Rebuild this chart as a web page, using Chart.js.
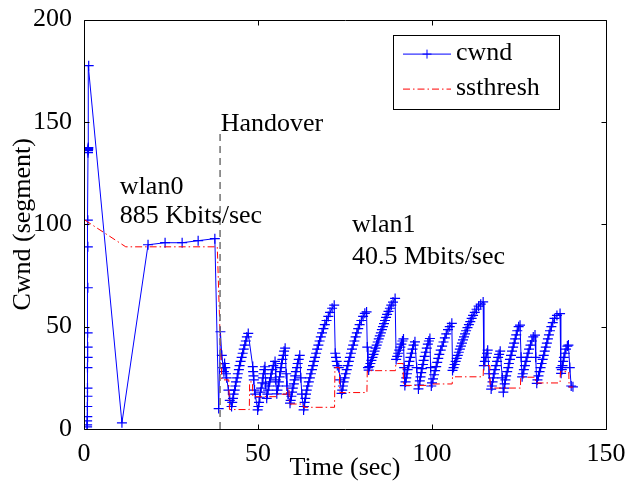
<!DOCTYPE html>
<html>
<head>
<meta charset="utf-8">
<script src="https://cdn.jsdelivr.net/npm/chart.js@4/dist/chart.umd.min.js"></script>
<style>
  html, body { margin: 0; padding: 0; background: #ffffff; }
  #wrap { width: 628px; height: 487px; }
</style>
</head>
<body>
<div id="wrap"><canvas id="c" width="628" height="487"></canvas></div>
<script>
// Axis ticks
const xTicks = [0, 50, 100, 150];
const yTicks = [0, 50, 100, 150, 200];

// cwnd samples [time (sec), cwnd (segments)] — slow start on wlan0
const cwndSlowStart = [
  [0.9, 1], [0.9, 2], [0.9, 4], [0.95, 6], [0.95, 11], [1.0, 16], [1.0, 20],
  [1.0, 30], [1.05, 35], [1.05, 40], [1.05, 47], [1.1, 69], [1.1, 89], [1.1, 102],
  [1.15, 135], [1.15, 136], [1.2, 136.5], [1.2, 137], [1.25, 137.5], [1.35, 177.5]
];

// cwnd on wlan0 until the handover
const cwndWlan0 = [
  [10.9, 3], [18.4, 90], [23.3, 91], [28.2, 91], [32.8, 92], [37.6, 93]
];

// cwnd on wlan1 after the handover
const cwndWlan1 = [
  [38.7, 10], [39.2, 47.5], [39.6, 36], [40.0, 30], [40.2, 28], [40.4, 32], [40.6, 30],
  [40.8, 27], [41.0, 25], [41.5, 19], [41.9, 14], [42.4, 11],
  [42.6, 13], [42.8, 15], [43.0, 17], [43.3, 19], [43.5, 21], [43.7, 23], [44.0, 25],
  [44.2, 27], [44.5, 29], [44.7, 31], [45.0, 33], [45.3, 35], [45.6, 37], [45.9, 39],
  [46.2, 41], [46.5, 43], [46.8, 45], [47.2, 46.7],
  [48.5, 30.5], [48.6, 28], [48.7, 26], [48.8, 24], [49.0, 19], [49.2, 17], [49.9, 9.3],
  [50.1, 11], [50.3, 13], [50.5, 15.5], [50.7, 18], [50.9, 20], [51.2, 22.5], [51.4, 25],
  [51.6, 27], [51.8, 29], [52.0, 30.4],
  [52.2, 22], [52.5, 15],
  [52.7, 17], [52.9, 19], [53.1, 21], [53.3, 23], [53.6, 25], [53.8, 27], [54.1, 29],
  [54.4, 31], [54.9, 33],
  [55.1, 24], [55.4, 17.2],
  [55.6, 19], [55.8, 21], [56.0, 23], [56.2, 25.5], [56.4, 28], [56.6, 30], [56.8, 32],
  [57.0, 34], [57.3, 36], [57.5, 38], [57.8, 39.5],
  [58.1, 27], [58.3, 21], [58.6, 17], [59.2, 12.6],
  [59.4, 14], [59.6, 16], [59.8, 18], [60.0, 20], [60.3, 22], [60.5, 24], [60.7, 26],
  [60.9, 28], [61.2, 30], [61.4, 32], [61.7, 34], [62.0, 36],
  [62.3, 25], [62.6, 17], [63.1, 9.3],
  [63.2, 11], [63.4, 13], [63.6, 15], [63.8, 17], [64.0, 19], [64.3, 21], [64.6, 23],
  [64.9, 25], [65.2, 27], [65.5, 29], [65.8, 31], [66.1, 33], [66.4, 35], [66.7, 37],
  [67.0, 39], [67.35, 41], [67.7, 43], [68.05, 45], [68.4, 47], [68.8, 49], [69.2, 51],
  [69.7, 53], [70.2, 55], [70.7, 57], [71.3, 59], [71.9, 60.5],
  [72.2, 37], [72.4, 35], [72.6, 33], [72.8, 31], [73.2, 30], [73.6, 24], [74.0, 17.4],
  [74.2, 19], [74.4, 21], [74.6, 23], [74.9, 25], [75.2, 27], [75.5, 29], [75.8, 31],
  [76.1, 33], [76.4, 35], [76.7, 37], [77.0, 39], [77.35, 41], [77.7, 43], [78.05, 45],
  [78.4, 47], [78.8, 49], [79.2, 51], [79.7, 53], [80.2, 55], [80.7, 56.5], [81.2, 57.2],
  [81.4, 40], [81.6, 30], [81.8, 28.8],
  [82.0, 30.5], [82.3, 32], [82.6, 33.5], [82.9, 35], [83.2, 36.5], [83.5, 38], [83.8, 39.5],
  [84.1, 41], [84.4, 42.5], [84.7, 44], [85.0, 45.5], [85.3, 47], [85.6, 48.5], [85.9, 50],
  [86.2, 51.5], [86.5, 53], [86.8, 54.5], [87.1, 56], [87.5, 57.5], [87.9, 59], [88.3, 60.5],
  [88.8, 62], [89.4, 63.8],
  [89.7, 34], [90.0, 35.5], [90.3, 37], [90.6, 38.5], [90.9, 40], [91.2, 41.5], [91.5, 43],
  [91.8, 44], [92.0, 30], [92.2, 21.2],
  [92.4, 23], [92.6, 25], [92.8, 27], [93.0, 29], [93.3, 31], [93.5, 33], [93.8, 35],
  [94.1, 37], [94.4, 39], [94.7, 41], [95.1, 42.6],
  [95.6, 30], [96.1, 19.6],
  [96.3, 21.5], [96.5, 23.5], [96.7, 25.5], [96.9, 27.5], [97.1, 29.5], [97.4, 31.5],
  [97.6, 33.5], [97.9, 35.5], [98.2, 37.5], [98.5, 39.5], [98.8, 41.5], [99.1, 43], [99.4, 44.2],
  [99.6, 30], [99.8, 21],
  [100.0, 22.5], [100.3, 24.5], [100.6, 26.5], [100.9, 28.5], [101.2, 30.5], [101.5, 32.5],
  [101.8, 34.5], [102.1, 36.5], [102.5, 38.5], [102.9, 40.5], [103.3, 42.5], [103.7, 44.5],
  [104.1, 46.5], [104.6, 48.5], [105.1, 50], [105.7, 51.6],
  [105.9, 28.6],
  [106.2, 30], [106.5, 31.5], [106.8, 33], [107.1, 34.5], [107.4, 36], [107.7, 37.5],
  [108.0, 39], [108.3, 40.5], [108.6, 42], [108.9, 43.5], [109.2, 45], [109.5, 46.5],
  [109.8, 48], [110.2, 49.5], [110.6, 51], [111.0, 52.5], [111.4, 54], [111.8, 55.5],
  [112.3, 57], [112.8, 58.5], [113.4, 60], [114.0, 61], [114.7, 62.1],
  [114.9, 31], [115.2, 33], [115.5, 35], [115.8, 37], [116.0, 38.5], [116.4, 27], [117.0, 19.5],
  [117.2, 21], [117.4, 23], [117.6, 25], [117.8, 27], [118.1, 29], [118.4, 31], [118.7, 33],
  [119.0, 35], [119.3, 36.5], [119.6, 38],
  [120.2, 25], [120.5, 18],
  [120.7, 20], [120.9, 22], [121.1, 24], [121.3, 26], [121.6, 28], [121.9, 30], [122.1, 32],
  [122.4, 34], [122.7, 36], [123.0, 38], [123.3, 40], [123.6, 42], [123.9, 44], [124.2, 46],
  [124.5, 48], [124.9, 50], [125.3, 50.7],
  [125.6, 35], [125.9, 25.5],
  [126.1, 27], [126.4, 29], [126.7, 31], [127.0, 33], [127.3, 35], [127.6, 37], [127.9, 39],
  [128.3, 41], [128.7, 43], [129.1, 45], [129.6, 45.9],
  [129.8, 35], [130.1, 22.3],
  [130.3, 24], [130.6, 26], [130.9, 28], [131.2, 30], [131.5, 32], [131.8, 34], [132.1, 36],
  [132.4, 38], [132.7, 40], [133.0, 42], [133.3, 44], [133.6, 46], [133.9, 48], [134.3, 50],
  [134.7, 52], [135.2, 54], [135.9, 55.5], [136.8, 56.4],
  [137.0, 30], [137.1, 27.2],
  [137.3, 29], [137.5, 31], [137.7, 33], [137.9, 35], [138.2, 37], [138.5, 39], [138.9, 40.5],
  [139.2, 41],
  [139.6, 30], [140.0, 21], [140.5, 20.6]
];

// ssthresh samples [time (sec), ssthresh (segments)]
const ssthresh = [
  [0.3, 102], [12, 89], [38.3, 89], [39.1, 46], [39.6, 24], [41.6, 24], [41.8, 9.5],
  [47.5, 9.5], [47.6, 23], [48.4, 23], [48.5, 15.8], [55.4, 15.8], [55.5, 17], [58.2, 17],
  [58.4, 20], [58.9, 20], [59.0, 12.2], [63.0, 12.2], [63.1, 10.6], [72.0, 10.6],
  [72.1, 30], [73.4, 30], [73.5, 17.8], [81.3, 17.8], [81.4, 28.5], [89.5, 28.5],
  [89.6, 32], [91.7, 32], [91.8, 21.3], [99.5, 21.3], [99.7, 22], [105.8, 22],
  [105.9, 25.5], [114.7, 25.5], [114.8, 31], [116.6, 31], [116.7, 20], [125.4, 20],
  [125.5, 25.3], [129.7, 25.3], [129.8, 22.5], [136.8, 22.5], [136.9, 28], [139.3, 28],
  [139.4, 20.5], [140.5, 20.5]
];

// Handover marker: time and top of the dashed line
const handoverTime = [39.1, 39.1];
const handoverLevel = [0, 146];

const toPoints = arr => arr.map(([x, y]) => ({ x, y }));
const cwndPoints = toPoints(cwndSlowStart.concat(cwndWlan0, cwndWlan1));
const ssthreshPoints = toPoints(ssthresh);
const handoverPoints = handoverTime.map((x, i) => ({ x, y: handoverLevel[i] }));

const FONT = '"Liberation Serif", "Times New Roman", serif';
const FS = 26;

// Text notes placed in data coordinates
const notes = [
  { text: 'wlan0', x: 10.3, y: 115 },
  { text: '885 Kbits/sec', x: 10.3, y: 100.5 },
  { text: 'Handover', x: 39.3, y: 145.5 },
  { text: 'wlan1', x: 77, y: 96 },
  { text: '40.5 Mbits/sec', x: 77, y: 80.7 }
];

// Box around the plot with inward ticks on all four sides, plus notes
const framePlugin = {
  id: 'frame',
  afterDatasetsDraw(chart) {
    const { ctx, chartArea: a, scales: { x, y } } = chart;
    ctx.save();
    ctx.fillStyle = '#000';
    ctx.font = FS + 'px ' + FONT;
    ctx.textAlign = 'left';
    ctx.textBaseline = 'alphabetic';
    notes.forEach(n => ctx.fillText(n.text, x.getPixelForValue(n.x), y.getPixelForValue(n.y)));

    ctx.strokeStyle = '#000';
    ctx.lineWidth = 1;
    const L = Math.round(a.left) + 0.5, R = Math.round(a.right) + 0.5;
    const T = Math.round(a.top) + 0.5, B = Math.round(a.bottom) + 0.5;
    ctx.beginPath();
    ctx.rect(L, T, R - L, B - T);
    const tl = 5;
    xTicks.forEach(v => {
      const px = Math.round(x.getPixelForValue(v)) + 0.5;
      ctx.moveTo(px, B); ctx.lineTo(px, B - tl);
      ctx.moveTo(px, T); ctx.lineTo(px, T + tl);
    });
    yTicks.forEach(v => {
      const py = Math.round(y.getPixelForValue(v)) + 0.5;
      ctx.moveTo(L, py); ctx.lineTo(L + tl, py);
      ctx.moveTo(R, py); ctx.lineTo(R - tl, py);
    });
    ctx.stroke();
    ctx.restore();
  },
  afterDraw(chart) {
    // Legend box in the upper right of the plot
    const { ctx, chartArea: a } = chart;
    const bx = a.right - 213, by = a.top + 15, bw = 166, bh = 74;
    ctx.save();
    ctx.fillStyle = '#fff';
    ctx.fillRect(bx, by, bw, bh);
    ctx.strokeStyle = '#000';
    ctx.lineWidth = 1;
    ctx.strokeRect(Math.round(bx) + 0.5, Math.round(by) + 0.5, bw, bh);
    const r1 = by + 19.5, r2 = by + 54.5;
    const lx0 = bx + 10, lx1 = bx + 58;
    ctx.strokeStyle = '#0000ff';
    ctx.beginPath();
    ctx.moveTo(lx0, r1); ctx.lineTo(lx1, r1);
    const cx = (lx0 + lx1) / 2;
    ctx.moveTo(cx - 4.5, r1); ctx.lineTo(cx + 4.5, r1);
    ctx.moveTo(cx, r1 - 4.5); ctx.lineTo(cx, r1 + 4.5);
    ctx.stroke();
    ctx.strokeStyle = '#ff0000';
    ctx.setLineDash([7, 3, 1.5, 3]);
    ctx.beginPath();
    ctx.moveTo(lx0, r2); ctx.lineTo(lx1, r2);
    ctx.stroke();
    ctx.setLineDash([]);
    ctx.fillStyle = '#000';
    ctx.font = FS + 'px ' + FONT;
    ctx.textBaseline = 'middle';
    ctx.textAlign = 'left';
    ctx.fillText('cwnd', lx1 + 5, r1 - 1);
    ctx.fillText('ssthresh', lx1 + 5, r2 - 1);
    ctx.restore();
  }
};

new Chart(document.getElementById('c'), {
  type: 'line',
  data: {
    datasets: [
      {
        label: 'Handover',
        data: handoverPoints,
        borderColor: '#707070',
        borderWidth: 1.5,
        borderDash: [7, 5],
        pointRadius: 0,
        fill: false
      },
      {
        label: 'ssthresh',
        data: ssthreshPoints,
        borderColor: '#ff0000',
        borderWidth: 1,
        borderDash: [7, 3, 1.5, 3],
        pointRadius: 0,
        tension: 0,
        fill: false
      },
      {
        label: 'cwnd',
        data: cwndPoints,
        borderColor: '#0000ff',
        borderWidth: 1,
        pointStyle: 'cross',
        pointRadius: 5,
        pointBorderColor: '#0000ff',
        pointBorderWidth: 1.2,
        tension: 0,
        fill: false
      }
    ]
  },
  options: {
    responsive: false,
    animation: false,
    devicePixelRatio: 1,
    layout: { padding: { top: 19, right: 22, left: 0, bottom: 0 } },
    plugins: { legend: { display: false }, tooltip: { enabled: false } },
    scales: {
      x: {
        type: 'linear',
        min: 0, max: 150,
        afterBuildTicks: s => { s.ticks = xTicks.map(v => ({ value: v })); },
        afterFit: s => { s.height = 58; },
        grid: { display: false },
        border: { display: false },
        ticks: { color: '#000', font: { family: FONT, size: FS }, padding: 2, maxRotation: 0, autoSkip: false },
        title: { display: true, text: 'Time (sec)', color: '#000', font: { family: FONT, size: FS }, padding: { top: 0, bottom: 3 } }
      },
      y: {
        type: 'linear',
        min: 0, max: 200,
        afterBuildTicks: s => { s.ticks = yTicks.map(v => ({ value: v })); },
        afterFit: s => { s.width = 84; },
        grid: { display: false },
        border: { display: false },
        ticks: { color: '#000', font: { family: FONT, size: FS }, padding: 4, autoSkip: false },
        title: { display: true, text: 'Cwnd (segment)', color: '#000', font: { family: FONT, size: FS }, padding: { top: 8, bottom: 0 } }
      }
    }
  },
  plugins: [framePlugin]
});
</script>
</body>
</html>
